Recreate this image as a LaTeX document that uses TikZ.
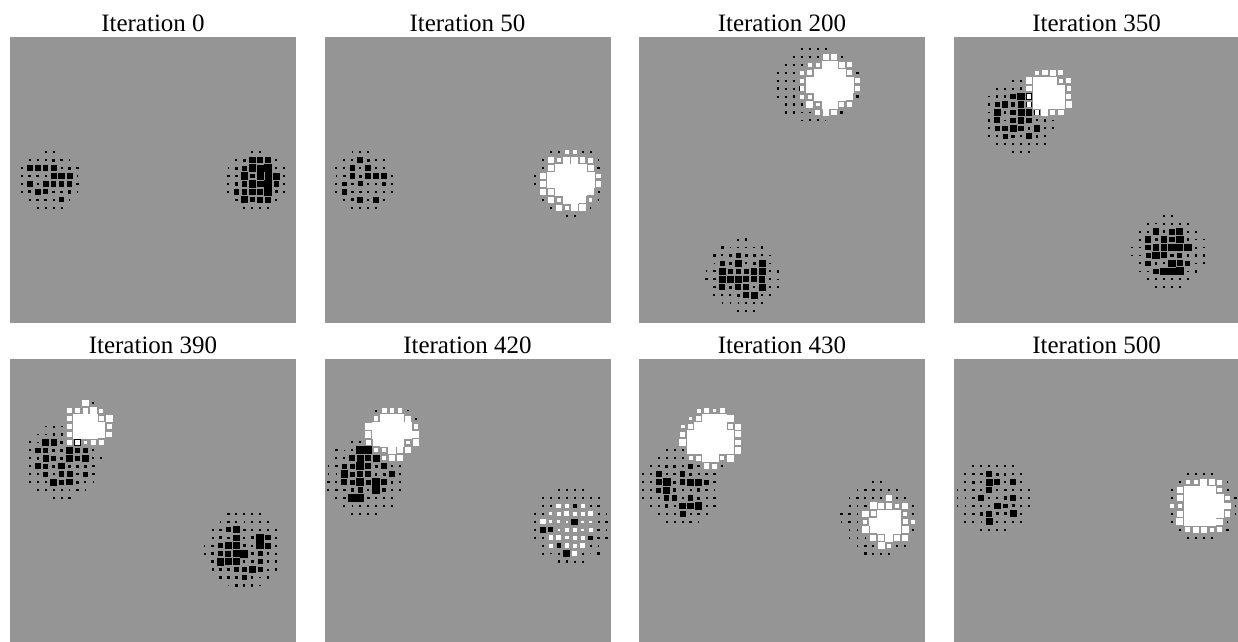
\documentclass[tikz,border=0pt]{standalone}
\usepackage{fontspec}
\setmainfont{Liberation Serif}
\usepackage{tikz}
\usetikzlibrary{positioning}

\definecolor{panelgray}{RGB}{149,149,149}
\def\cell{7.944}

% one Hinton blob: cx, cy, core radius, outer radius, kind (0 black, 1 white, 2 mixed), share of big squares, biggest size
\newcommand{\hblob}[7]{%
  \pgfmathtruncatemacro\imin{max(0,floor((#1-#4)/\cell))}%
  \pgfmathtruncatemacro\imax{min(35,floor((#1+#4)/\cell))}%
  \pgfmathtruncatemacro\jmin{max(0,floor((#2-#4)/\cell))}%
  \pgfmathtruncatemacro\jmax{min(35,floor((#2+#4)/\cell))}%
  \pgfmathsetmacro\ringr{#3+9}%
  \foreach \i in {\imin,...,\imax}{%
    \foreach \j in {\jmin,...,\jmax}{%
      \pgfmathsetmacro\px{(\i+0.5)*\cell}%
      \pgfmathsetmacro\py{(\j+0.5)*\cell}%
      \pgfmathsetmacro\dd{veclen(\px-#1,\py-#2)}%
      \ifdim\dd pt<#4pt
        \def\col{black}%
        \pgfmathsetmacro\sz{0.2+0.1*rnd}%
        \ifdim\dd pt<#3pt
          \ifcase#5\relax
            \pgfmathsetmacro\rr{rnd}%
            \pgfmathsetmacro\pp{#6*(1-0.3*(\dd/#3)^2)}%
            \ifdim\rr pt<\pp pt
              \pgfmathsetmacro\sz{0.6+(#7-0.6)*rnd}%
            \else
              \pgfmathsetmacro\sz{0.22+0.2*rnd}%
            \fi
          \or
            \def\col{white}\def\sz{1.04}%
          \or
            \pgfmathsetmacro\rr{rnd}%
            \ifdim\rr pt<0.25pt
              \pgfmathsetmacro\sz{0.35+0.5*rnd}%
            \else
              \def\col{white}\pgfmathsetmacro\sz{0.3+0.35*rnd}%
            \fi
          \fi
        \else
          \ifnum#5=1
            \ifdim\dd pt<\ringr pt
              \def\col{white}\pgfmathsetmacro\sz{0.45+0.45*rnd}%
            \fi
          \fi
        \fi
        \pgfmathsetmacro\hs{\sz*\cell/2}%
        \fill[\col] (\px-\hs,\py-\hs) rectangle (\px+\hs,\py+\hs);
      \fi
    }}}

\tikzset{
  title/.style={anchor=base, font=\fontsize{25}{30}\selectfont, inner sep=0pt},
  panel/.style={fill=panelgray}
}

\begin{document}
\begin{tikzpicture}[x=1pt, y=-1pt]
  \useasboundingbox (0,0) rectangle (1238,641);
  \pgfmathsetseed{11}

  % 1. Titles over the panels
  \foreach \n/\x/\y in {0/10/37, 50/324.5/37, 200/639/37, 350/953.5/37,
                        390/10/359, 420/324.5/359, 430/639/359, 500/953.5/359}
    \node[title] (title\n) at (\x+143,\y-5.5) {Iteration \n};

  % 2. Iteration 0
  \begin{scope}[shift={(10,37)}]
    \fill[panel] (0,0) rectangle (286,286);
    \hblob{40}{144}{24}{31}{0}{0.45}{0.9}
    \hblob{246}{144}{26}{31}{0}{1.0}{1.0}
  \end{scope}

  % 3. Iteration 50
  \begin{scope}[shift={(324.5,37)}]
    \fill[panel] (0,0) rectangle (286,286);
    \hblob{39}{144}{23}{31}{0}{0.4}{0.85}
    \hblob{246}{144}{21}{36}{1}{1}{1}
  \end{scope}

  % 4. Iteration 200
  \begin{scope}[shift={(639,37)}]
    \fill[panel] (0,0) rectangle (286,286);
    \hblob{104}{239}{26}{37}{0}{0.8}{0.95}
    \hblob{176}{48}{16}{40}{0}{0.15}{0.7}
    \hblob{190}{48}{21}{34}{1}{1}{1}
  \end{scope}

  % 5. Iteration 350
  \begin{scope}[shift={(953.5,37)}]
    \fill[panel] (0,0) rectangle (286,286);
    \hblob{66}{80}{27}{38}{0}{0.7}{0.95}
    \hblob{215}{215}{27}{38}{0}{0.9}{1.0}
    \hblob{95}{56}{17}{27}{1}{1}{1}
  \end{scope}

  % 6. Iteration 390
  \begin{scope}[shift={(10,359)}]
    \fill[panel] (0,0) rectangle (286,286);
    \hblob{52}{100}{28}{40}{0}{0.6}{0.9}
    \hblob{234}{191}{28}{40}{0}{0.85}{1.0}
    \hblob{77}{67}{15}{25}{1}{1}{1}
  \end{scope}

  % 7. Iteration 420
  \begin{scope}[shift={(324.5,359)}]
    \fill[panel] (0,0) rectangle (286,286);
    \hblob{40}{118}{28}{40}{0}{0.8}{1.0}
    \hblob{246}{167}{28}{40}{2}{1}{1}
    \hblob{68}{74}{18}{28}{1}{1}{1}
  \end{scope}

  % 8. Iteration 430
  \begin{scope}[shift={(639,359)}]
    \fill[panel] (0,0) rectangle (286,286);
    \hblob{42}{127}{28}{40}{0}{0.65}{0.95}
    \hblob{240}{160}{20}{38}{0}{0.2}{0.7}
    \hblob{72}{78}{22}{32}{1}{1}{1}
    \hblob{250}{163}{16}{28}{1}{1}{1}
  \end{scope}

  % 9. Iteration 500
  \begin{scope}[shift={(953.5,359)}]
    \fill[panel] (0,0) rectangle (286,286);
    \hblob{40}{138}{26}{38}{0}{0.4}{0.9}
    \hblob{248}{147}{21}{36}{1}{1}{1}
  \end{scope}
\end{tikzpicture}
\end{document}
